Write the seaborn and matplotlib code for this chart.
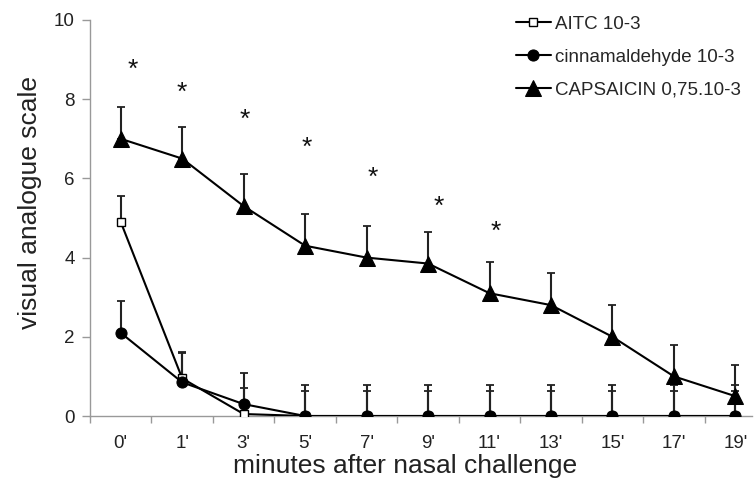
import matplotlib
matplotlib.use("Agg")
import matplotlib.pyplot as plt
import seaborn as sns
import numpy as np
import pandas as pd
from matplotlib.ticker import FixedLocator

minutes = ["0'", "1'", "3'", "5'", "7'", "9'", "11'", "13'", "15'", "17'", "19'"]
aitc = [4.9, 0.95, 0.05, 0, 0, 0, 0, 0, 0, 0, 0]
aitc_err = [0.65, 0.67, 0.65, 0.63, 0.63, 0.63, 0.63, 0.63, 0.63, 0.63, 0.63]
cinna = [2.1, 0.85, 0.3, 0, 0, 0, 0, 0, 0, 0, 0]
cinna_err = [0.8, 0.74, 0.79, 0.78, 0.78, 0.78, 0.78, 0.78, 0.78, 0.78, 0.78]
caps = [7.0, 6.5, 5.3, 4.3, 4.0, 3.85, 3.1, 2.8, 2.0, 1.0, 0.5]
caps_err = [0.8, 0.8, 0.8, 0.8, 0.8, 0.8, 0.8, 0.8, 0.8, 0.8, 0.8]
star_idx = [0, 1, 2, 3, 4, 5, 6]
star_y = [8.86, 8.28, 7.6, 6.89, 6.14, 5.4, 4.77]
star_dx = [0.2, 0.0, 0.02, 0.02, 0.1, 0.18, 0.1]
labels = ["AITC 10-3", "cinnamaldehyde 10-3", "CAPSAICIN 0,75.10-3"]

sns.set_style("white")
plt.rcParams['font.family'] = ['Liberation Sans', 'DejaVu Sans']

fig = plt.figure(figsize=(7.56, 4.86), dpi=100)
ax = fig.add_axes([90/756, 1 - 416/486, (752 - 90)/756, (416 - 20)/486])

idx = np.arange(len(minutes))
series = [
    (aitc, aitc_err, labels[0], dict(marker='s', markersize=5.5, markerfacecolor='white', markeredgecolor='black', markeredgewidth=1.0)),
    (cinna, cinna_err, labels[1], dict(marker='o', markersize=8, markerfacecolor='black', markeredgecolor='black')),
    (caps, caps_err, labels[2], dict(marker='^', markersize=11, markerfacecolor='black', markeredgecolor='black')),
]

for vals, err, lab, mk in series:
    ax.errorbar(idx, vals, yerr=[np.zeros(len(vals)), err], fmt='none', ecolor='#222222',
                elinewidth=1.5, capsize=3, capthick=1.3, zorder=2)

for vals, err, lab, mk in series:
    df = pd.DataFrame({"x": idx, "y": vals})
    sns.lineplot(data=df, x="x", y="y", ax=ax, color='black', linewidth=1.5,
                 label=lab, zorder=3, **mk)

for i, yv, dx in zip(star_idx, star_y, star_dx):
    ax.text(i + dx, yv - 0.12, "*", ha='center', va='center', fontsize=19, color='#111111')

ax.set_xlim(-0.5, 10.27)
ax.set_ylim(0, 10)
ax.set_yticks([0, 2, 4, 6, 8, 10])
ax.set_xticks(idx)
ax.set_xticklabels(minutes)
ax.xaxis.set_minor_locator(FixedLocator(np.arange(-0.5, 10.5, 1.0)))
ax.tick_params(axis='x', which='major', length=0, pad=14, labelsize=13.5, colors='#222222')
ax.tick_params(axis='x', which='minor', length=5, width=1, color='#999999', direction='out', bottom=True)
ax.tick_params(axis='y', which='major', length=6, width=1, color='#999999', direction='out', left=True, labelsize=13.5, labelcolor='#222222', pad=5)

for s in ['top', 'right']:
    ax.spines[s].set_visible(False)
for s in ['left', 'bottom']:
    ax.spines[s].set_color('#999999')
    ax.spines[s].set_linewidth(1.0)

ax.set_xlabel("minutes after nasal challenge", fontsize=19, color='#222222')
ax.set_ylabel("visual analogue scale", fontsize=19, color='#222222')
ax.xaxis.set_label_coords(0.476, -0.095)
ax.yaxis.set_label_coords(-0.072, 0.54)

leg = ax.legend(loc='upper right', bbox_to_anchor=(1.0, 1.04), frameon=False, fontsize=13.5,
                handlelength=1.9, handletextpad=0.2, labelspacing=0.85, borderaxespad=0.2)

fig.savefig("out.png", dpi=100)
